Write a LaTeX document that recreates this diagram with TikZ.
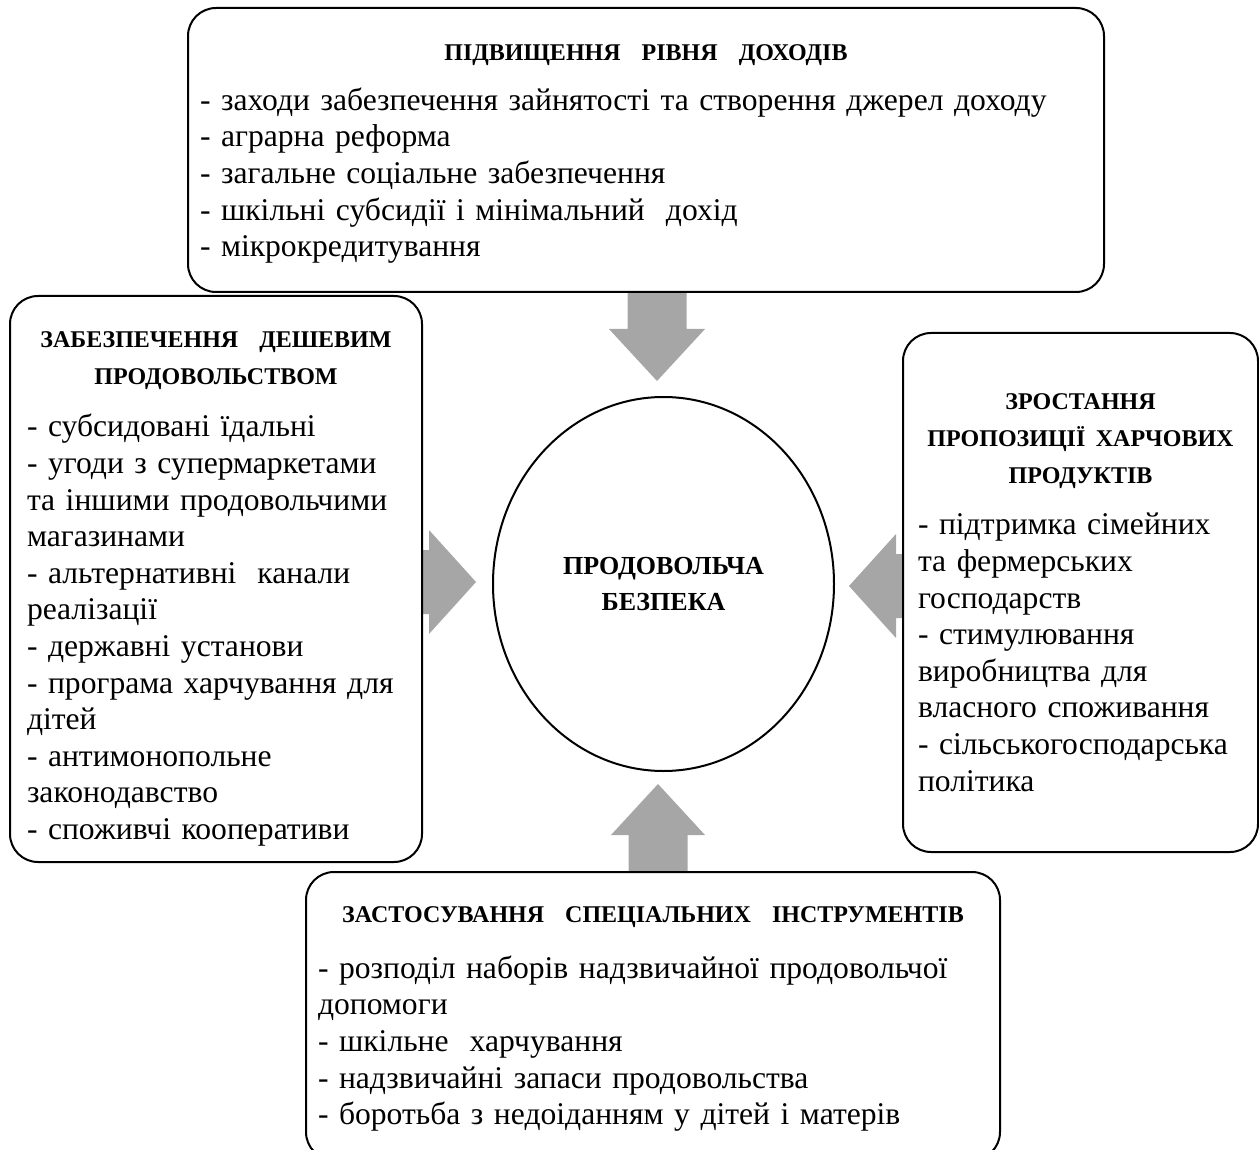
\documentclass[tikz,border=0pt]{standalone}
\usepackage{fontspec}
\setmainfont{Liberation Serif}
\usepackage{tikz}
\usetikzlibrary{calc,shapes.geometric}

\definecolor{flowgray}{HTML}{A6A6A6}
\newcommand{\headfont}{\fontsize{12}{18.5}\selectfont\bfseries}
\newcommand{\hubfont}{\fontsize{13}{18}\selectfont\bfseries}
\newcommand{\bodyfont}{\fontsize{15.8}{18.3}\selectfont}

\begin{document}
\begin{tikzpicture}[x=0.5pt,y=-0.5pt,
  card/.style={draw,line width=1pt,rounded corners=14pt,fill=white,align=left,
    inner xsep=0pt,font=\bodyfont},
  flow/.style={fill=flowgray}]
  \useasboundingbox (0,0) rectangle (1259,1150);
  \clip (0,0) rectangle (1259,1150);

  % centre
  \node[ellipse,draw,line width=1pt,minimum width=170.5pt,minimum height=187pt,
    align=center,font=\hubfont] (food) at (663.5,584) {ПРОДОВОЛЬЧА\\БЕЗПЕКА};

  % arrows towards the centre
  \coordinate (tipN) at ($(food.north)+(-6.5,-15)$);
  \coordinate (tipW) at ($(food.west)+(-16,-2)$);
  \coordinate (tipE) at ($(food.east)+(14,2)$);
  \coordinate (tipS) at ($(food.south)+(-5.5,12)$);
  \fill[flow] (tipN) -- ++(-48,-52) -- ++(18.5,0) -- ++(0,-50) -- ++(59,0) -- ++(0,50) -- ++(18.5,0) -- cycle;
  \fill[flow] (tipW) -- ++(-47,-52) -- ++(0,20) -- ++(-30,0) -- ++(0,64) -- ++(30,0) -- ++(0,20) -- cycle;
  \fill[flow] (tipE) -- ++(47,-52) -- ++(0,20) -- ++(30,0) -- ++(0,64) -- ++(-30,0) -- ++(0,20) -- cycle;
  \fill[flow] (tipS) -- ++(-47,51) -- ++(17.5,0) -- ++(0,50) -- ++(59,0) -- ++(0,-50) -- ++(17.5,0) -- cycle;

  % boxes
  \node[card,minimum width=458pt,minimum height=142pt,text width=446pt] (income) at (646,150) {%
    {\centering\headfont\rule{0pt}{12.2pt}ПІДВИЩЕННЯ\ \ РІВНЯ\ \ ДОХОДІВ\par}\vspace{6.5pt}
    - заходи забезпечення зайнятості та створення джерел доходу\\
    - аграрна реформа\\
    - загальне соціальне забезпечення\\
    - шкільні субсидії і мінімальний\ \ дохід\\
    - мікрокредитування};
  \node[card,minimum width=206pt,minimum height=283pt,text width=189pt] (cheap) at (216,579) {%
    {\centering\headfont\rule{0pt}{17.7pt}ЗАБЕЗПЕЧЕННЯ\ \ ДЕШЕВИМ\\ПРОДОВОЛЬСТВОМ\par}\vspace{8pt}
    - субсидовані їдальні\\
    - угоди з супермаркетами\\
    та іншими продовольчими\\
    магазинами\\
    - альтернативні\ \ канали\\
    реалізації\\
    - державні установи\\
    - програма харчування для\\
    дітей\\
    - антимонопольне\\
    законодавство\\
    - споживчі кооперативи};
  \node[card,minimum width=177.5pt,minimum height=259.5pt,text width=162.5pt] (supply) at (1080.5,592.5) {%
    {\centering\headfont ЗРОСТАННЯ\\ПРОПОЗИЦІЇ ХАРЧОВИХ\\ПРОДУКТІВ\par}\vspace{7.5pt}
    - підтримка сімейних\\
    та фермерських\\
    господарств\\
    - стимулювання\\
    виробництва для\\
    власного споживання\\
    - сільськогосподарська\\
    політика};
  \node[card,minimum width=347pt,minimum height=144pt,text width=335pt] (tools) at (653,1016) {%
    {\centering\headfont\rule{0pt}{11.2pt}ЗАСТОСУВАННЯ\ \ СПЕЦІАЛЬНИХ\ \ ІНСТРУМЕНТІВ\par}\vspace{9.5pt}
    - розподіл наборів надзвичайної продовольчої\\
    допомоги\\
    - шкільне\ \ харчування\\
    - надзвичайні запаси продовольства\\
    - боротьба з недоіданням у дітей і матерів};
\end{tikzpicture}
\end{document}
